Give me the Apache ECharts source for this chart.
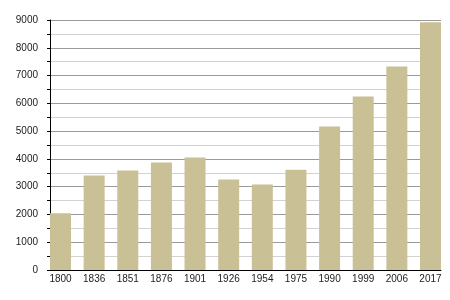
<!DOCTYPE html>
<html><head><meta charset="utf-8">
<script src="https://cdn.jsdelivr.net/npm/echarts@6/dist/echarts.min.js"></script>
<style>html,body{margin:0;padding:0;background:#fff}#c{width:450px;height:300px}</style>
</head><body><div id="c"></div>
<script>
const years = ['1800','1836','1851','1876','1901','1926','1954','1975','1990','1999','2006','2017'];
const population = [2040, 3400, 3580, 3870, 4050, 3255, 3075, 3605, 5165, 6250, 7330, 8915];
const yTicks = [0, 1000, 2000, 3000, 4000, 5000, 6000, 7000, 8000, 9000];

const chart = echarts.init(document.getElementById('c'), null, {renderer: 'canvas'});
const idx = years.map((_, i) => i);
chart.setOption({
  animation: false,
  backgroundColor: '#fff',
  grid: {left: 50, right: 9, top: 20, bottom: 30, containLabel: false},
  xAxis: {
    type: 'value', min: -0.3125, max: years.length - 1 + 0.3125,
    axisLine: {show: true, onZero: false, lineStyle: {color: '#000', width: 1}},
    axisTick: {show: false},
    splitLine: {show: false},
    axisLabel: {customValues: idx, formatter: v => years[Math.round(v)], color: '#222', fontSize: 10, margin: 4, fontFamily: 'Liberation Sans, Arial, sans-serif'}
  },
  yAxis: {
    type: 'value', min: yTicks[0], max: yTicks[yTicks.length - 1], interval: 1000,
    axisLine: {show: true, onZero: false, lineStyle: {color: '#000', width: 1}},
    axisTick: {show: true, length: 3, lineStyle: {color: '#000'}},
    minorTick: {show: true, splitNumber: 2, length: 3, lineStyle: {color: '#000'}},
    splitLine: {show: true, lineStyle: {color: '#9a9a9a', width: 1}},
    minorSplitLine: {show: true, lineStyle: {color: '#d2d2d2', width: 1}},
    axisLabel: {formatter: v => String(v), color: '#222', fontSize: 10, margin: 12, fontFamily: 'Liberation Sans, Arial, sans-serif'}
  },
  series: [{
    type: 'bar',
    data: population.map((v, i) => [i, v]),
    barWidth: 21,
    itemStyle: {color: '#cac096'}
  }]
});
</script></body></html>
